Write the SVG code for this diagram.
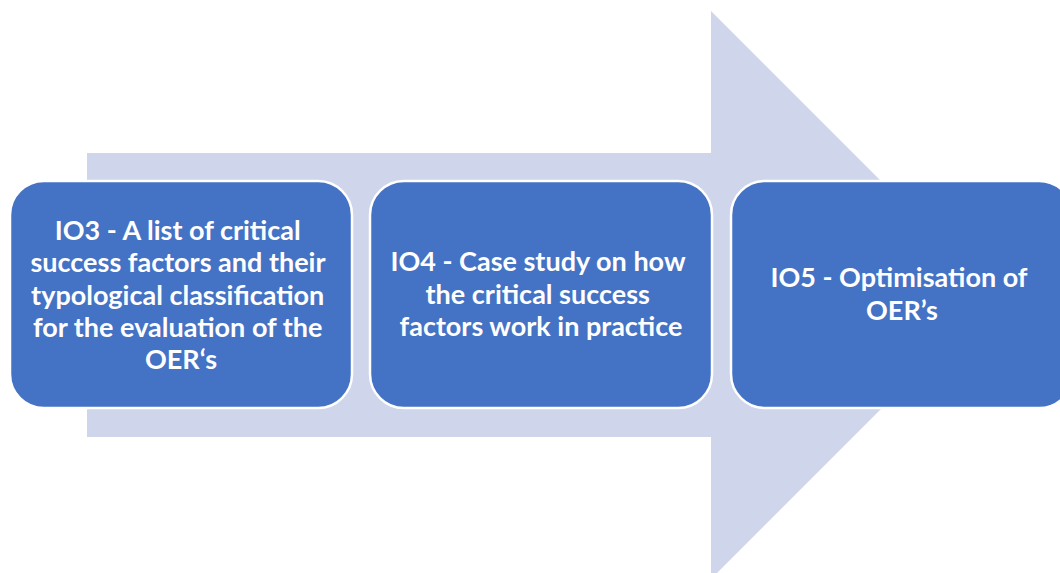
<svg xmlns="http://www.w3.org/2000/svg" width="1060" height="573" viewBox="0 0 1060 573">
  <style>
    .step { fill: #4472C4; stroke: #FFFFFF; stroke-width: 2.5; }
    .label { font-family: "Lato", "Liberation Sans", sans-serif; font-weight: bold; font-size: 27px; fill: #FFFFFF; text-anchor: middle; }
  </style>
  <!-- background process arrow -->
  <g id="connectors">
    <polygon points="87,153 711,153 711,11 995,295 711,579 711,437 87,437" fill="#CFD5EA"/>
  </g>
  <g id="io3">
    <rect class="step" x="10" y="181" width="342" height="227" rx="34" ry="34"/>
    <text class="label">
      <tspan x="181" y="240">IO3 - A list of critical</tspan>
      <tspan x="181" y="272">success factors and their</tspan>
      <tspan x="181" y="305">typological classification</tspan>
      <tspan x="181" y="337">for the evaluation of the</tspan>
      <tspan x="181" y="369">OER‘s</tspan>
    </text>
  </g>
  <g id="io4">
    <rect class="step" x="370" y="181" width="342" height="227" rx="34" ry="34"/>
    <text class="label">
      <tspan x="541" y="271">IO4 - Case study on how</tspan>
      <tspan x="541" y="304">the critical success</tspan>
      <tspan x="541" y="336">factors work in practice</tspan>
    </text>
  </g>
  <g id="io5">
    <rect class="step" x="731" y="181" width="342" height="227" rx="34" ry="34"/>
    <text class="label">
      <tspan x="902" y="287">IO5 - Optimisation of</tspan>
      <tspan x="902" y="320">OER’s</tspan>
    </text>
  </g>
</svg>
